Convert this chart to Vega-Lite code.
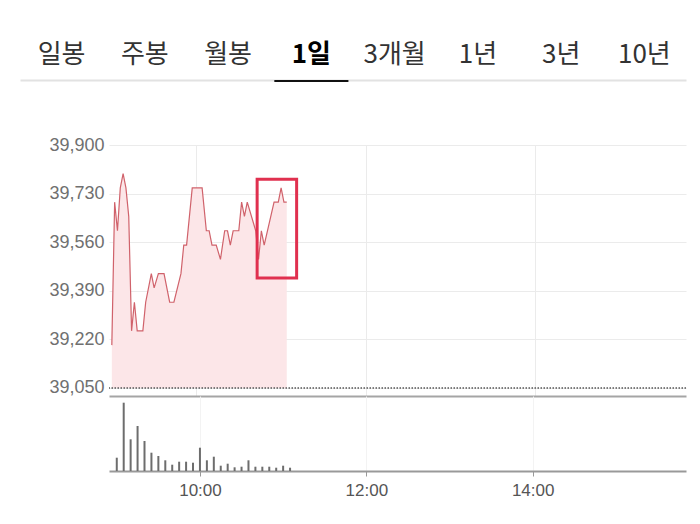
{
  "$schema": "https://vega.github.io/schema/vega-lite/v6.json",
  "background": "white",
  "padding": {"left": 37, "right": 14, "top": 41, "bottom": 10},
  "bounds": "flush",
  "spacing": 63,
  "config": {
    "view": {"stroke": null},
    "axis": {"labelFont": "Liberation Sans", "titleFont": "Liberation Sans"}
  },
  "datasets": {
    "tabs": [
      {"tab": "일봉"}, {"tab": "주봉"}, {"tab": "월봉"}, {"tab": "1일"},
      {"tab": "3개월"}, {"tab": "1년"}, {"tab": "3년"}, {"tab": "10년"}
    ],
    "price": [
      {"t": "2024-05-20T09:00:00", "p": 39200},
      {"t": "2024-05-20T09:02:00", "p": 39700},
      {"t": "2024-05-20T09:04:00", "p": 39600},
      {"t": "2024-05-20T09:06:00", "p": 39750},
      {"t": "2024-05-20T09:08:00", "p": 39800},
      {"t": "2024-05-20T09:10:00", "p": 39750},
      {"t": "2024-05-20T09:12:00", "p": 39650},
      {"t": "2024-05-20T09:14:00", "p": 39250},
      {"t": "2024-05-20T09:16:00", "p": 39350},
      {"t": "2024-05-20T09:18:00", "p": 39250},
      {"t": "2024-05-20T09:22:00", "p": 39250},
      {"t": "2024-05-20T09:24:00", "p": 39350},
      {"t": "2024-05-20T09:28:00", "p": 39450},
      {"t": "2024-05-20T09:30:00", "p": 39400},
      {"t": "2024-05-20T09:33:00", "p": 39450},
      {"t": "2024-05-20T09:37:00", "p": 39450},
      {"t": "2024-05-20T09:41:00", "p": 39350},
      {"t": "2024-05-20T09:44:00", "p": 39350},
      {"t": "2024-05-20T09:49:00", "p": 39450},
      {"t": "2024-05-20T09:51:00", "p": 39550},
      {"t": "2024-05-20T09:53:00", "p": 39550},
      {"t": "2024-05-20T09:57:00", "p": 39750},
      {"t": "2024-05-20T10:04:00", "p": 39750},
      {"t": "2024-05-20T10:07:00", "p": 39600},
      {"t": "2024-05-20T10:09:00", "p": 39600},
      {"t": "2024-05-20T10:11:00", "p": 39550},
      {"t": "2024-05-20T10:14:00", "p": 39550},
      {"t": "2024-05-20T10:17:00", "p": 39500},
      {"t": "2024-05-20T10:20:00", "p": 39600},
      {"t": "2024-05-20T10:22:00", "p": 39600},
      {"t": "2024-05-20T10:24:00", "p": 39550},
      {"t": "2024-05-20T10:26:00", "p": 39600},
      {"t": "2024-05-20T10:30:00", "p": 39600},
      {"t": "2024-05-20T10:32:00", "p": 39700},
      {"t": "2024-05-20T10:34:00", "p": 39650},
      {"t": "2024-05-20T10:36:00", "p": 39700},
      {"t": "2024-05-20T10:42:00", "p": 39600},
      {"t": "2024-05-20T10:44:00", "p": 39500},
      {"t": "2024-05-20T10:46:00", "p": 39600},
      {"t": "2024-05-20T10:48:00", "p": 39550},
      {"t": "2024-05-20T10:55:00", "p": 39700},
      {"t": "2024-05-20T10:58:00", "p": 39700},
      {"t": "2024-05-20T11:00:00", "p": 39750},
      {"t": "2024-05-20T11:02:00", "p": 39700},
      {"t": "2024-05-20T11:04:00", "p": 39700}
    ],
    "volume": [
      {"t": "2024-05-20T09:00:00", "v": 13300},
      {"t": "2024-05-20T09:05:00", "v": 68300},
      {"t": "2024-05-20T09:10:00", "v": 31700},
      {"t": "2024-05-20T09:15:00", "v": 45000},
      {"t": "2024-05-20T09:20:00", "v": 30000},
      {"t": "2024-05-20T09:25:00", "v": 18300},
      {"t": "2024-05-20T09:30:00", "v": 15000},
      {"t": "2024-05-20T09:35:00", "v": 10700},
      {"t": "2024-05-20T09:40:00", "v": 6300},
      {"t": "2024-05-20T09:45:00", "v": 9300},
      {"t": "2024-05-20T09:50:00", "v": 9300},
      {"t": "2024-05-20T09:55:00", "v": 8300},
      {"t": "2024-05-20T10:00:00", "v": 23300},
      {"t": "2024-05-20T10:05:00", "v": 10700},
      {"t": "2024-05-20T10:10:00", "v": 14300},
      {"t": "2024-05-20T10:15:00", "v": 5300},
      {"t": "2024-05-20T10:20:00", "v": 7300},
      {"t": "2024-05-20T10:25:00", "v": 3700},
      {"t": "2024-05-20T10:30:00", "v": 4300},
      {"t": "2024-05-20T10:35:00", "v": 10700},
      {"t": "2024-05-20T10:40:00", "v": 4300},
      {"t": "2024-05-20T10:45:00", "v": 4300},
      {"t": "2024-05-20T10:50:00", "v": 4300},
      {"t": "2024-05-20T10:55:00", "v": 3300},
      {"t": "2024-05-20T11:00:00", "v": 5300},
      {"t": "2024-05-20T11:05:00", "v": 3300}
    ],
    "prevClose": [{"p": 39050}],
    "highlight": [
      {"t1": "2024-05-20T10:43:00", "t2": "2024-05-20T11:11:00", "p1": 39435, "p2": 39780}
    ]
  },
  "vconcat": [
    {
      "width": 577,
      "height": 2,
      "data": {"name": "tabs"},
      "transform": [{"filter": "datum.tab === '1일'"}],
      "mark": {"type": "bar", "color": "#111111", "width": {"band": 0.89}},
      "encoding": {
        "x": {
          "field": "tab",
          "type": "nominal",
          "sort": null,
          "scale": {
            "domain": ["일봉", "주봉", "월봉", "1일", "3개월", "1년", "3년", "10년"],
            "range": [-89, 577],
            "paddingInner": 0,
            "paddingOuter": 0
          },
          "axis": {
            "orient": "top",
            "title": null,
            "ticks": false,
            "labelAngle": 0,
            "labelPadding": 13,
            "labelFont": "Noto Sans CJK KR",
            "labelFontSize": 26,
            "labelColor": {"condition": {"test": "datum.value === '1일'", "value": "#000000"}, "value": "#333333"},
            "labelFontWeight": {"condition": {"test": "datum.value === '1일'", "value": "bold"}, "value": "normal"},
            "domainColor": "#e2e2e2",
            "domainWidth": 2
          }
        }
      }
    },
    {
      "bounds": "flush",
      "spacing": 0,
      "vconcat": [
        {
          "width": 577,
          "height": 251,
          "layer": [
            {
              "data": {"name": "price"},
              "mark": {"type": "area", "color": "#fce6e8"},
              "encoding": {
                "x": {
                  "field": "t",
                  "type": "temporal",
                  "scale": {
                    "domain": [
                      {"year": 2024, "month": 5, "date": 20, "hours": 8, "minutes": 58},
                      {"year": 2024, "month": 5, "date": 20, "hours": 15, "minutes": 47}
                    ]
                  },
                  "axis": {
                    "orient": "bottom",
                    "title": null,
                    "labels": false,
                    "ticks": false,
                    "values": [
                      {"year": 2024, "month": 5, "date": 20, "hours": 10},
                      {"year": 2024, "month": 5, "date": 20, "hours": 12},
                      {"year": 2024, "month": 5, "date": 20, "hours": 14}
                    ],
                    "grid": true,
                    "gridColor": "#ebebeb",
                    "domainColor": "#a5a5a5",
                    "domainWidth": 2
                  }
                },
                "y": {
                  "field": "p",
                  "type": "quantitative",
                  "scale": {"domain": [39022, 39900], "nice": false, "zero": false},
                  "axis": {
                    "title": null,
                    "values": [39050, 39220, 39390, 39560, 39730, 39900],
                    "format": ",d",
                    "ticks": false,
                    "domain": false,
                    "labelPadding": 5,
                    "labelFontSize": 18,
                    "labelColor": "#707070",
                    "gridColor": "#ebebeb"
                  }
                },
                "y2": {"datum": 39050}
              }
            },
            {
              "data": {"name": "price"},
              "mark": {"type": "line", "color": "#d0626b", "strokeWidth": 1.2},
              "encoding": {
                "x": {"field": "t", "type": "temporal"},
                "y": {"field": "p", "type": "quantitative"}
              }
            },
            {
              "data": {"name": "prevClose"},
              "mark": {"type": "rule", "color": "#555555", "strokeDash": [1.5, 1.5], "strokeWidth": 1.5},
              "encoding": {"y": {"field": "p", "type": "quantitative"}}
            },
            {
              "data": {"name": "highlight"},
              "mark": {"type": "rect", "fill": null, "stroke": "#e0304f", "strokeWidth": 3},
              "encoding": {
                "x": {"field": "t1", "type": "temporal"},
                "x2": {"field": "t2"},
                "y": {"field": "p1", "type": "quantitative"},
                "y2": {"field": "p2"}
              }
            }
          ]
        },
        {
          "width": 577,
          "height": 75,
          "data": {"name": "volume"},
          "mark": {"type": "bar", "color": "#6d6d6d", "size": 2},
          "encoding": {
            "x": {
              "field": "t",
              "type": "temporal",
              "scale": {
                "domain": [
                  {"year": 2024, "month": 5, "date": 20, "hours": 8, "minutes": 58},
                  {"year": 2024, "month": 5, "date": 20, "hours": 15, "minutes": 47}
                ]
              },
              "axis": {
                "title": null,
                "values": [
                  {"year": 2024, "month": 5, "date": 20, "hours": 10},
                  {"year": 2024, "month": 5, "date": 20, "hours": 12},
                  {"year": 2024, "month": 5, "date": 20, "hours": 14}
                ],
                "format": "%H:%M",
                "labelFontSize": 17,
                "labelColor": "#555555",
                "tickColor": "#999999",
                "tickSize": 5,
                "labelPadding": 6,
                "domainColor": "#999999",
                "domainWidth": 2,
                "grid": true,
                "gridColor": "#f3f3f3"
              }
            },
            "y": {
              "field": "v",
              "type": "quantitative",
              "scale": {"domain": [0, 75000], "nice": false},
              "axis": null
            }
          }
        }
      ]
    }
  ]
}
